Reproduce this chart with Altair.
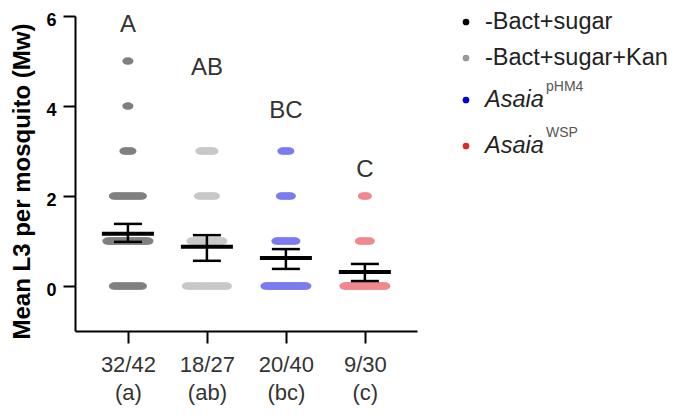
import altair as alt
import numpy as np
import pandas as pd

# ---------------- data ----------------
group_pos = [1, 2, 3, 4]
group_names = ["-Bact+sugar", "-Bact+sugar+Kan", "AsaiapHM4", "AsaiaWSP"]
tick_top = ["32/42", "18/27", "20/40", "9/30"]
tick_bottom = ["(a)", "(ab)", "(bc)", "(c)"]
letters = ["A", "AB", "BC", "C"]
letter_y = [5.80, 4.85, 3.89, 2.57]

scores = [0, 1, 2, 3, 4, 5]
counts_g1 = [10, 17, 10, 3, 1, 1]
counts_g2 = [14, 11, 6, 5, 0, 0]
counts_g3 = [20, 7, 4, 3, 0, 0]
counts_g4 = [21, 4, 2, 0, 0, 0]

means = [1.16, 0.87, 0.62, 0.31]
upper = [1.38, 1.13, 0.82, 0.49]
lower = [0.98, 0.56, 0.38, 0.11]

point_colors = ["#808080", "#c8c8c8", "#7b7bf0", "#f0888f"]
legend_labels = ["-Bact+sugar", "-Bact+sugar+Kan", "Asaia", "Asaia"]
legend_sups = ["", "", "pHM4", "WSP"]
legend_colors = ["#000000", "#999999", "#0000dd", "#e02828"]

# ---------------- layout ----------------
W, H = 342, 315
XMIN, XMAX = 0.33, 4.66
PX = W / (XMAX - XMIN)          # pixels per x unit
SPACING_PX, MAX_SPREAD_PX = 3.0, 40.0

rows = []
for g, name, counts in zip(group_pos, group_names,
                           [counts_g1, counts_g2, counts_g3, counts_g4]):
    for s, n in zip(scores, counts):
        if n == 0:
            continue
        spread = min(SPACING_PX * (n - 1), MAX_SPREAD_PX)
        offs = np.linspace(-spread / 2, spread / 2, n) if n > 1 else [0.0]
        for o in offs:
            rows.append({"x": g + o / PX, "y": s, "group": name})
pts = pd.DataFrame(rows)

stats = pd.DataFrame({"g": group_pos, "mean": means, "lo": lower, "hi": upper})
stats["ml"] = stats["g"] - 26 / PX
stats["mr"] = stats["g"] + 26 / PX
stats["cl"] = stats["g"] - 14 / PX
stats["cr"] = stats["g"] + 14 / PX

lab = pd.DataFrame({"g": group_pos, "y": letter_y, "t": letters})

expr = ""
for i, (a, b) in enumerate(zip(tick_top, tick_bottom)):
    if i < len(tick_top) - 1:
        expr += f"datum.value == {group_pos[i]} ? ['{a}', '{b}'] : "
    else:
        expr += f"['{a}', '{b}']"

FONT = "Liberation Sans"
xscale = alt.Scale(domain=[XMIN, XMAX], nice=False, zero=False)
yscale = alt.Scale(domain=[-1, 6], nice=False, zero=False)
xaxis = alt.Axis(values=group_pos, labelExpr=expr, title=None, grid=False,
                 tickSize=12, tickWidth=2, domainWidth=2, domainColor="black",
                 tickColor="black", labelFontSize=22, labelLineHeight=28,
                 labelColor="#333333", labelPadding=11, labelFont=FONT,
                 labelOverlap=False, labelFlush=False)
yaxis = alt.Axis(values=[0, 2, 4, 6], title="Mean L3 per mosquito (Mw)", grid=False,
                 tickSize=12, tickWidth=2, domainWidth=2, domainColor="black",
                 tickColor="black", labelFontSize=18, labelFontWeight="bold",
                 labelColor="black", labelPadding=7, labelFont=FONT, labelOffset=4,
                 titleFont=FONT, titleFontSize=24, titleFontWeight="bold",
                 titleColor="black", titlePadding=11, titleY=165)

ELLIPSE = "M-1,0A1,0.7,0,1,1,1,0A1,0.7,0,1,1,-1,0Z"

points = alt.Chart(pts).mark_point(shape=ELLIPSE, filled=True, size=121,
                                   opacity=1, strokeWidth=0).encode(
    x=alt.X("x:Q", scale=xscale, axis=xaxis),
    y=alt.Y("y:Q", scale=yscale, axis=yaxis),
    color=alt.Color("group:N", scale=alt.Scale(domain=group_names, range=point_colors),
                    legend=None),
)

base = alt.Chart(stats)
mean_line = base.mark_rule(color="black", strokeWidth=4).encode(
    x=alt.X("ml:Q", scale=xscale, axis=xaxis), x2="mr:Q",
    y=alt.Y("mean:Q", scale=yscale, axis=yaxis))
vline = base.mark_rule(color="black", strokeWidth=2.5).encode(
    x=alt.X("g:Q", scale=xscale, axis=xaxis),
    y=alt.Y("lo:Q", scale=yscale, axis=yaxis), y2="hi:Q")
cap_hi = base.mark_rule(color="black", strokeWidth=2.5).encode(
    x=alt.X("cl:Q", scale=xscale, axis=xaxis), x2="cr:Q",
    y=alt.Y("hi:Q", scale=yscale, axis=yaxis))
cap_lo = base.mark_rule(color="black", strokeWidth=2.5).encode(
    x=alt.X("cl:Q", scale=xscale, axis=xaxis), x2="cr:Q",
    y=alt.Y("lo:Q", scale=yscale, axis=yaxis))

letter_text = alt.Chart(lab).mark_text(fontSize=24, font=FONT, color="#333333",
                                       baseline="middle").encode(
    x=alt.X("g:Q", scale=xscale, axis=xaxis),
    y=alt.Y("y:Q", scale=yscale, axis=yaxis),
    text="t:N")

# ---------------- manual legend ----------------
leg_y = [6, 42, 84, 130]
leg_layers = []
for i in range(4):
    d = pd.DataFrame({"t": [legend_labels[i]], "s": [legend_sups[i]]})
    leg_layers.append(alt.Chart(d).mark_circle(size=45, opacity=1,
                                               color=legend_colors[i]).encode(
        x=alt.value(391), y=alt.value(leg_y[i])))
    leg_layers.append(alt.Chart(d).mark_text(
        align="left", baseline="middle", fontSize=23.5, font=FONT, color="#222222",
        fontStyle="italic" if legend_sups[i] else "normal").encode(
        x=alt.value(410), y=alt.value(leg_y[i]), text="t:N"))
    if legend_sups[i]:
        leg_layers.append(alt.Chart(d).mark_text(
            align="left", baseline="middle", fontSize=14, font=FONT,
            color="#555555").encode(
            x=alt.value(471), y=alt.value(leg_y[i] - 13), text="s:N"))

chart = alt.layer(points, mean_line, vline, cap_hi, cap_lo, letter_text,
                  *leg_layers).properties(
    width=W, height=H,
    autosize=alt.AutoSizeParams(type="none"),
    padding={"left": 67, "top": 8, "right": 260, "bottom": 79},
).configure_view(stroke=None)

chart.save("out.html", embed_options={"renderer": "svg", "actions": False})
